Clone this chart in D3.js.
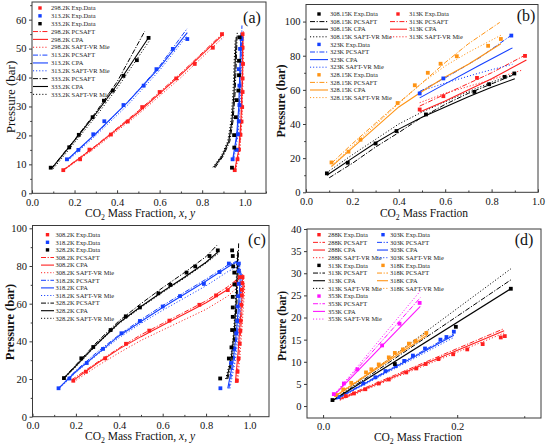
<!DOCTYPE html>
<html>
<head>
<meta charset="utf-8">
<script src="https://cdn.jsdelivr.net/npm/d3@7"></script>
<style>
body { margin: 0; background: #fff; }
svg text { font-family: 'Liberation Serif', 'Times New Roman', serif; }
</style>
</head>
<body>
<svg id="chart" width="550" height="447"></svg>
<script>
// colours
const RED = '#ff1f1f', BLUE = '#1440ff', BLACK = '#000', ORANGE = '#ff9414', MAGENTA = '#ff14ff';
const SERIF = "'Liberation Serif', 'Times New Roman', serif";

// ---------- panel (a) : x, P ----------
const aTemps = ['298.2', '313.2', '333.2'];
const aXTicks = [0, 0.2, 0.4, 0.6, 0.8, 1.0];
const aXMinor = [0.1, 0.3, 0.5, 0.7, 0.9, 1.1];
const aYTicks = [0, 10, 20, 30, 40, 50, 60];
const aYMinor = [5, 15, 25, 35, 45, 55, 65];

const aExp298 = [[0.147,8.0],[0.226,11.75],[0.27,15.1],[0.371,20.3],[0.45,24.8],[0.518,29.8],[0.6,35.0],[0.678,39.7],[0.765,44.7],[0.85,50.3],[0.893,55.0],
  [0.953,8.0],[0.966,11.75],[0.973,15.1],[0.98,20.2],[0.985,24.8],[0.988,29.8],[0.99,35.0],[0.99,39.7],[0.992,44.7],[0.99,50.3],[0.99,55.0]];
const aExp313 = [[0.164,11.75],[0.218,15.0],[0.288,20.4],[0.34,24.9],[0.43,30.5],[0.525,37.2],[0.585,42.9],[0.662,49.9],[0.73,53.3],
  [0.943,11.75],[0.962,15.0],[0.968,20.4],[0.972,24.9],[0.975,30.5],[0.975,37.2],[0.972,42.9],[0.978,49.9],[0.985,53.3]];
const aExp333 = [[0.088,8.85],[0.175,15.9],[0.22,20.2],[0.285,26.3],[0.338,32.0],[0.38,35.5],[0.43,40.6],[0.493,46.0],[0.548,53.7],
  [0.94,8.85],[0.951,15.8],[0.95,20.1],[0.958,26.3],[0.962,32.2],[0.97,35.5],[0.973,40.8],[0.973,45.8],[0.976,53.9]];

const aPc298 = [[[0.145,8],[0.3,16.5],[0.5,28.5],[0.7,41.5],[0.9,55.5]], [[0.955,8],[0.975,15],[0.985,25],[0.99,40],[0.993,56]]];
const aCpa298 = [[[0.148,8],[0.3,16.3],[0.5,28],[0.7,41],[0.9,55]], [[0.953,8],[0.972,15],[0.982,25],[0.988,40],[0.99,55]]];
const aSaft298 = [[[0.15,8],[0.3,15.8],[0.5,27.3],[0.7,40],[0.9,54]], [[0.957,8],[0.977,15],[0.987,25],[0.992,40],[0.995,54]]];
const aPc313 = [[[0.165,11.5],[0.3,20.5],[0.45,31.5],[0.6,44],[0.73,57]], [[0.945,11.5],[0.965,20],[0.975,30],[0.982,45],[0.987,58]]];
const aCpa313 = [[[0.165,11.5],[0.3,20.7],[0.45,31.5],[0.6,43.5],[0.73,55.5]], [[0.943,11.5],[0.962,20],[0.972,30],[0.978,45],[0.982,55.5]]];
const aSaft313 = [[[0.17,11.3],[0.3,20],[0.45,30.5],[0.6,42.5],[0.73,54.5]], [[0.948,11.3],[0.968,20],[0.978,30],[0.984,45],[0.988,54.5]]];
const aPc333 = [[[0.09,8.5],[0.2,18.5],[0.3,28],[0.4,38.5],[0.53,56]], [[0.86,8.8],[0.9,13],[0.93,18],[0.945,25],[0.955,35],[0.96,45],[0.965,56]]];
const aCpa333 = [[[0.095,8.8],[0.2,18.3],[0.3,27.5],[0.4,37.5],[0.55,54]], [[0.855,9],[0.895,13],[0.925,18],[0.94,25],[0.95,35],[0.955,45],[0.96,54]]];
const aSaft333 = [[[0.1,8.5],[0.2,17.5],[0.3,26.5],[0.4,36.3],[0.55,52.5]], [[0.85,9],[0.89,13],[0.92,18],[0.935,25],[0.945,35],[0.95,45],[0.955,53]]];

// ---------- panel (b) ----------
const bTemps = ['308.15', '313', '323', '328.15'];
const bXTicks = [0, 0.2, 0.4, 0.6, 0.8, 1.0];
const bXMinor = [0.1, 0.3, 0.5, 0.7, 0.9];
const bYTicks = [0, 20, 40, 60, 80, 100];
const bYMinor = [10, 30, 50, 70, 90];

const bExp308 = [[0.09,11.1],[0.18,17.3],[0.3,28.6],[0.39,35.9],[0.517,45.6],[0.726,58.8],[0.789,63.3],[0.856,67.6],[0.898,69.6]];
const bExp313 = [[0.49,48.5],[0.592,56.3],[0.737,67.0],[0.944,79.9]];
const bExp323 = [[0.49,57.9],[0.592,66.7],[0.885,91.8]];
const bExp328 = [[0.11,17.5],[0.183,23.8],[0.235,30.8],[0.395,52.3],[0.469,62.7],[0.525,70.0],[0.58,75.3],[0.65,79.7],[0.785,85.8],[0.84,89.8]];

const bPc308 = [[0.1,8.5],[0.2,17],[0.3,26.5],[0.4,35],[0.5,44],[0.6,51.5],[0.7,58],[0.8,63.5],[0.89,68.5]];
const bCpa308 = [[0.09,10],[0.2,20],[0.3,29],[0.4,37],[0.5,44],[0.6,50],[0.7,56],[0.8,61.5],[0.9,66.5]];
const bSaft308 = [[0.1,12.5],[0.2,22],[0.3,31],[0.4,40],[0.5,47],[0.6,53],[0.7,59],[0.8,64.5],[0.9,69.5]];
const bPc313 = [[0.49,50.5],[0.6,57.5],[0.8,70],[0.94,80]];
const bCpa313 = [[0.49,47],[0.6,53.5],[0.8,66.5],[0.95,77.5]];
const bSaft313 = [[0.49,52.5],[0.6,58],[0.8,66],[0.93,71.5]];
const bPc323 = [[0.49,59],[0.6,67],[0.75,79],[0.88,91.5]];
const bCpa323 = [[0.49,55.3],[0.6,63.5],[0.75,74.5],[0.89,84.6]];
const bSaft323 = [[0.49,59],[0.6,64],[0.75,70],[0.89,75]];
const bPc328 = [[0.11,17],[0.2,28.5],[0.3,40.5],[0.4,52.5],[0.5,64],[0.6,76],[0.7,87],[0.835,99.5]];
const bCpa328 = [[0.11,15],[0.2,26],[0.3,38],[0.4,50],[0.5,59],[0.6,67.5],[0.7,75],[0.84,87]];
const bSaft328 = [[0.11,15.5],[0.2,27],[0.3,39.5],[0.4,52],[0.5,64],[0.6,74],[0.7,82],[0.84,92]];

// ---------- panel (c) ----------
const cTemps = ['308.2', '318.2', '328.2'];
const cXTicks = [0, 0.2, 0.4, 0.6, 0.8, 1.0];
const cXMinor = [0.1, 0.3, 0.5, 0.7, 0.9];
const cYTicks = [0, 20, 40, 60, 80, 100];
const cYMinor = [10, 30, 50, 70, 90];

const cExp308 = [[0.188,19.1],[0.246,23.9],[0.335,31.0],[0.431,38.7],[0.538,45.7],[0.631,51.0],[0.769,59.4],[0.846,64.4],[0.9,67.2],[0.939,70.7],[0.955,74.1],
  [0.942,19.1],[0.945,23.9],[0.95,31.0],[0.955,38.7],[0.958,45.7],[0.96,51.0],[0.962,59.4],[0.963,64.4],[0.965,67.4],[0.966,70.9],[0.968,74.1]];
const cExp318 = [[0.12,15.1],[0.17,20.3],[0.25,28.5],[0.325,36.0],[0.41,44.3],[0.495,50.8],[0.6,58.5],[0.68,64.0],[0.79,70.5],[0.862,76.8],[0.905,81.3],
  [0.866,15.1],[0.915,28.5],[0.93,36.0],[0.939,44.3],[0.943,50.8],[0.946,58.5],[0.948,64.0],[0.95,70.5],[0.951,77.3],[0.951,81.3]];
const cExp328 = [[0.145,20.5],[0.225,31.0],[0.28,37.0],[0.36,46.0],[0.43,53.3],[0.495,58.0],[0.58,65.5],[0.635,70.0],[0.71,76.5],[0.75,79.8],[0.816,85.3],[0.854,88.3],
  [0.865,20.3],[0.905,30.9],[0.917,36.8],[0.92,46.0],[0.923,53.0],[0.923,58.0],[0.923,63.6],[0.931,70.2],[0.93,76.5],[0.925,79.8],[0.923,85.3],[0.92,88.3]];

const cPc308 = [[[0.18,19.5],[0.3,29],[0.4,36.5],[0.5,43.5],[0.6,49.5],[0.7,55.5],[0.8,61.5],[0.9,69],[0.97,75.5]], [[0.94,18],[0.953,35],[0.965,55],[0.975,70],[0.97,75.5]]];
const cCpa308 = [[[0.185,19],[0.3,28.5],[0.4,36],[0.5,42.5],[0.6,48.5],[0.7,54.5],[0.8,60.5],[0.9,67.5],[0.965,74.5]], [[0.935,18],[0.948,35],[0.96,55],[0.97,70],[0.965,74.5]]];
const cSaft308 = [[[0.19,18.5],[0.3,27],[0.4,34],[0.5,40.5],[0.6,46],[0.7,51.5],[0.8,57],[0.9,64],[0.975,72]], [[0.945,18],[0.958,35],[0.97,55],[0.978,68],[0.975,72]]];
const cPc318 = [[[0.12,15],[0.2,24.5],[0.3,34.5],[0.4,43.5],[0.5,51.5],[0.6,59],[0.7,66],[0.8,73],[0.9,80.5],[0.95,83]], [[0.905,15],[0.93,30],[0.945,45],[0.955,60],[0.962,75],[0.95,83]]];
const cCpa318 = [[[0.12,15],[0.2,24],[0.3,33.5],[0.4,43],[0.5,50.5],[0.6,58],[0.7,65],[0.8,72],[0.9,79.5],[0.94,82]], [[0.9,15],[0.925,30],[0.94,45],[0.95,60],[0.958,75],[0.94,82]]];
const cSaft318 = [[[0.125,15],[0.2,23.5],[0.3,33],[0.4,42],[0.5,49.5],[0.6,56.5],[0.7,63],[0.8,69.5],[0.9,77],[0.95,80]], [[0.91,15],[0.935,30],[0.95,45],[0.96,60],[0.966,75],[0.95,80]]];
const cPc328 = [[[0.14,20],[0.2,27.5],[0.3,40],[0.4,51],[0.5,60],[0.6,68.5],[0.7,76.5],[0.8,85],[0.85,91]], [[0.9,20],[0.92,30],[0.935,45],[0.942,60],[0.947,75],[0.95,92]]];
const cCpa328 = [[[0.14,20],[0.2,27],[0.3,39],[0.4,50],[0.5,58.5],[0.6,66.5],[0.7,74],[0.8,82],[0.86,88]], [[0.895,20],[0.915,30],[0.93,45],[0.938,60],[0.943,75],[0.946,88]]];
const cSaft328 = [[[0.145,20],[0.2,26.5],[0.3,38.5],[0.4,49.5],[0.5,58],[0.6,66],[0.7,73.5],[0.8,81.5],[0.86,87]], [[0.89,20],[0.912,30],[0.927,45],[0.935,60],[0.94,75],[0.944,87]]];

// ---------- panel (d) ----------
const dTemps = ['288', '303', '313', '318', '353'];
const dXTicks = [0, 0.2];
const dXMinor = [0.1, 0.3];
const dYTicks = [0, 5, 10, 15, 20, 25, 30, 35, 40];

const dExp288 = [[0.034,2.25],[0.046,2.85],[0.063,3.8],[0.083,5.1],[0.098,6.0],[0.124,7.6],[0.139,8.5],[0.153,9.5],[0.172,10.6],[0.194,11.7],[0.215,12.8],[0.238,14.0],[0.265,15.5],[0.271,15.8]];
const dExp303 = [[0.023,2.0],[0.06,5.1],[0.078,6.5],[0.093,7.9],[0.108,9.0],[0.121,10.2],[0.134,11.4],[0.152,13.0],[0.175,15.0],[0.184,15.6],[0.195,16.8]];
const dExp313 = [[0.014,1.35],[0.107,9.5],[0.198,17.9],[0.28,26.5]];
const dExp318 = [[0.019,2.5],[0.03,3.75],[0.042,5.25],[0.064,7.6],[0.072,8.3],[0.083,9.4],[0.098,11.0],[0.107,12.0],[0.119,12.8],[0.128,14.1],[0.138,14.7],[0.154,16.5]];
const dExp353 = [[0.016,2.7],[0.031,5.1],[0.051,8.3],[0.088,13.7],[0.114,18.6],[0.144,23.3]];

const dPc288 = [[0.025,1.7],[0.27,17.5]];
const dCpa288 = [[0.025,1.5],[0.27,17]];
const dSaft288 = [[0.025,1.3],[0.27,16.5]];
const dPc303 = [[0.02,1.7],[0.195,16.3]];
const dCpa303 = [[0.02,1.6],[0.195,16]];
const dSaft303 = [[0.02,1.5],[0.195,15.5]];
const dPc313 = [[0.015,1.3],[0.28,28.5]];
const dCpa313 = [[0.015,1.3],[0.28,26.5]];
const dSaft313 = [[0.015,1.3],[0.28,31]];
const dPc318 = [[0.018,2.3],[0.155,16.5]];
const dCpa318 = [[0.018,2.2],[0.155,16]];
const dSaft318 = [[0.018,2.0],[0.155,16.8]];
const dPc353 = [[0.017,2.6],[0.145,24.5]];
const dCpa353 = [[0.017,2.5],[0.145,22.5]];
const dSaft353 = [[0.017,2.7],[0.145,26]];

// ---------- drawing ----------
const svg = d3.select('#chart').attr('font-family', SERIF);
svg.append('rect').attr('width', 550).attr('height', 447).attr('fill', '#fff');

const FRAME = '#3a3a3a';
const DASH = { pc: '5,1.6,1.2,1.6', cpa: null, saft: '1.1,2' };
const KIND_TXT = { exp: 'Exp.Data', pc: 'PCSAFT', cpa: 'CPA', saft: 'SAFT-VR Mie' };

function toLines(v) { return Array.isArray(v[0][0]) ? v : [v]; }

function addCO2(g, cx, y, size, withXY) {
  const t = g.append('text').attr('x', cx).attr('y', y).attr('text-anchor', 'middle')
    .attr('font-family', SERIF).attr('font-size', size).attr('fill', '#111');
  t.append('tspan').text('CO');
  t.append('tspan').attr('font-size', size * 0.68).attr('dy', 3).text('2');
  t.append('tspan').attr('dy', -3).text(' Mass Fraction');
  if (withXY) {
    t.append('tspan').text(', ');
    t.append('tspan').attr('font-style', 'italic').text('x');
    t.append('tspan').text(', ');
    t.append('tspan').attr('font-style', 'italic').text('y');
  }
}

function drawPanel(p) {
  const g = svg.append('g');
  const x = d3.scaleLinear().domain(p.xDom).range([p.l, p.r]);
  const y = d3.scaleLinear().domain(p.yDom).range([p.b, p.t]);
  const line = d3.line().x(d => x(d[0])).y(d => y(d[1]));

  // axes
  const yAx = g.append('g').attr('transform', `translate(${p.l},0)`)
    .call(d3.axisLeft(y).tickValues(p.yTicks).tickSize(3).tickSizeOuter(0).tickPadding(2.5).tickFormat(d3.format('d')));
  if (p.yMinor) {
    g.append('g').attr('transform', `translate(${p.l},0)`)
      .call(d3.axisLeft(y).tickValues(p.yMinor).tickSize(1.8).tickSizeOuter(0).tickFormat(''))
      .select('.domain').remove();
  }
  const xAx = g.append('g').attr('transform', `translate(0,${p.b})`)
    .call(d3.axisBottom(x).tickValues(p.xTicks).tickSizeInner(-3).tickSizeOuter(0).tickPadding(5).tickFormat(d3.format('.1f')));
  g.append('g').attr('transform', `translate(0,${p.b})`)
    .call(d3.axisBottom(x).tickValues(p.xMinor).tickSizeInner(-1.8).tickSizeOuter(0).tickFormat(''))
    .select('.domain').remove();
  [yAx, xAx].forEach(a => {
    a.select('.domain').remove();
    a.attr('font-family', SERIF).attr('font-size', 10.5).attr('color', FRAME);
    a.selectAll('text').attr('fill', '#111');
  });
  g.selectAll('.tick line').attr('stroke', FRAME);

  // frame
  g.append('rect').attr('x', p.l).attr('y', p.t).attr('width', p.r - p.l).attr('height', p.b - p.t)
    .attr('fill', 'none').attr('stroke', FRAME).attr('stroke-width', 1);

  // model lines
  p.series.forEach(s => {
    ['pc', 'cpa', 'saft'].forEach(k => {
      toLines(s[k]).forEach(pts => {
        g.append('path').attr('d', line(pts)).attr('fill', 'none')
          .attr('stroke', s.color).attr('stroke-width', k === 'cpa' ? 1.1 : 1)
          .attr('stroke-dasharray', DASH[k]);
      });
    });
  });
  // experimental points
  p.series.forEach(s => {
    g.selectAll(null).data(s.exp).enter().append('rect')
      .attr('x', d => x(d[0]) - 1.9).attr('y', d => y(d[1]) - 1.9)
      .attr('width', 3.8).attr('height', 3.8).attr('fill', s.color);
  });

  // legend
  const L = p.legend;
  L.items.forEach(it => {
    const c = L.cols[it.col];
    const cy = L.y0 + it.row * L.dy;
    if (it.kind === 'exp') {
      g.append('rect').attr('x', c.m - 1.7).attr('y', cy - 1.7).attr('width', 3.4).attr('height', 3.4).attr('fill', it.color);
    } else {
      g.append('line').attr('x1', c.l1).attr('x2', c.l2).attr('y1', cy).attr('y2', cy)
        .attr('stroke', it.color).attr('stroke-width', it.kind === 'cpa' ? 1.1 : 1)
        .attr('stroke-dasharray', DASH[it.kind]);
    }
    g.append('text').attr('x', c.t).attr('y', cy + 2.2).attr('font-family', SERIF)
      .attr('font-size', 6.4).attr('fill', '#222')
      .text(`${it.temp}K ${KIND_TXT[it.kind]}`);
  });

  // titles
  g.append('text').attr('transform', `translate(${p.yTitle[0]},${p.yTitle[1]}) rotate(-90)`)
    .attr('text-anchor', 'middle').attr('dominant-baseline', 'central').attr('font-family', SERIF)
    .attr('font-size', p.yTitle[2]).attr('font-weight', p.yTitle[3] ? 'bold' : null).attr('fill', '#111')
    .text('Pressure (bar)');
  addCO2(g, p.xTitle[0], p.xTitle[1], 11.5, p.xTitle[2]);
  g.append('text').attr('x', p.tag[0]).attr('y', p.tag[1]).attr('text-anchor', 'middle')
    .attr('font-family', SERIF).attr('font-size', 16).attr('fill', '#111').text(p.tag[2]);
}

// legend builders
function legendSingle(temps, colors) {
  const items = [];
  temps.forEach((t, i) => items.push({ col: 0, row: i, kind: 'exp', temp: t, color: colors[i] }));
  temps.forEach((t, i) => ['pc', 'cpa', 'saft'].forEach((k, j) =>
    items.push({ col: 0, row: temps.length + i * 3 + j, kind: k, temp: t, color: colors[i] })));
  return items;
}
function legendGroups(groups) {
  const items = [];
  groups.forEach(gr => ['exp', 'pc', 'cpa', 'saft'].forEach((k, j) =>
    items.push({ col: gr.col, row: gr.start + j, kind: k, temp: gr.temp, color: gr.color })));
  return items;
}

drawPanel({
  l: 32, r: 266, t: 2, b: 193.3, xDom: [0, 1.1], yDom: [0, 66.1],
  xTicks: aXTicks, xMinor: aXMinor, yTicks: aYTicks, yMinor: aYMinor,
  series: [
    { color: RED, exp: aExp298, pc: aPc298, cpa: aCpa298, saft: aSaft298 },
    { color: BLUE, exp: aExp313, pc: aPc313, cpa: aCpa313, saft: aSaft313 },
    { color: BLACK, exp: aExp333, pc: aPc333, cpa: aCpa333, saft: aSaft333 }
  ],
  legend: { y0: 8, dy: 7.85, cols: [{ l1: 33, l2: 48, m: 40, t: 51 }], items: legendSingle(aTemps, [RED, BLUE, BLACK]) },
  yTitle: [10, 97, 13, false], xTitle: [140, 217, true], tag: [252, 23, '(a)']
});

drawPanel({
  l: 306, r: 538, t: 4.5, b: 192.3, xDom: [0, 1.0], yDom: [0, 110],
  xTicks: bXTicks, xMinor: bXMinor, yTicks: bYTicks, yMinor: bYMinor,
  series: [
    { color: BLACK, exp: bExp308, pc: bPc308, cpa: bCpa308, saft: bSaft308 },
    { color: RED, exp: bExp313, pc: bPc313, cpa: bCpa313, saft: bSaft313 },
    { color: BLUE, exp: bExp323, pc: bPc323, cpa: bCpa323, saft: bSaft323 },
    { color: ORANGE, exp: bExp328, pc: bPc328, cpa: bCpa328, saft: bSaft328 }
  ],
  legend: { y0: 14, dy: 7.6,
    cols: [{ l1: 310, l2: 328, m: 319, t: 330 }, { l1: 390, l2: 407, m: 398, t: 409 }],
    items: legendGroups([
      { col: 0, start: 0, temp: bTemps[0], color: BLACK },
      { col: 1, start: 0, temp: bTemps[1], color: RED },
      { col: 0, start: 4, temp: bTemps[2], color: BLUE },
      { col: 0, start: 8, temp: bTemps[3], color: ORANGE }
    ]) },
  yTitle: [281, 101, 12, true], xTitle: [424, 216.5, false], tag: [526, 21, '(b)']
});

drawPanel({
  l: 32.5, r: 269, t: 225.5, b: 416.7, xDom: [0, 1.09], yDom: [0, 101.5],
  xTicks: cXTicks, xMinor: cXMinor, yTicks: cYTicks, yMinor: cYMinor,
  series: [
    { color: RED, exp: cExp308, pc: cPc308, cpa: cCpa308, saft: cSaft308 },
    { color: BLUE, exp: cExp318, pc: cPc318, cpa: cCpa318, saft: cSaft318 },
    { color: BLACK, exp: cExp328, pc: cPc328, cpa: cCpa328, saft: cSaft328 }
  ],
  legend: { y0: 234.7, dy: 7.6, cols: [{ l1: 41, l2: 54, m: 47.5, t: 55.5 }], items: legendSingle(cTemps, [RED, BLUE, BLACK]) },
  yTitle: [10, 322, 12.5, true], xTitle: [140, 440, true], tag: [257, 245, '(c)']
});

drawPanel({
  l: 307, r: 541, t: 229, b: 418, xDom: [-0.024, 0.325], yDom: [-2.7, 40],
  xTicks: dXTicks, xMinor: dXMinor, yTicks: dYTicks, yMinor: null,
  series: [
    { color: RED, exp: dExp288, pc: dPc288, cpa: dCpa288, saft: dSaft288 },
    { color: BLUE, exp: dExp303, pc: dPc303, cpa: dCpa303, saft: dSaft303 },
    { color: BLACK, exp: dExp313, pc: dPc313, cpa: dCpa313, saft: dSaft313 },
    { color: ORANGE, exp: dExp318, pc: dPc318, cpa: dCpa318, saft: dSaft318 },
    { color: MAGENTA, exp: dExp353, pc: dPc353, cpa: dCpa353, saft: dSaft353 }
  ],
  legend: { y0: 234.7, dy: 7.67,
    cols: [{ l1: 313, l2: 325, m: 319, t: 328 }, { l1: 377, l2: 388, m: 383, t: 390 }],
    items: legendGroups([
      { col: 0, start: 0, temp: dTemps[0], color: RED },
      { col: 1, start: 0, temp: dTemps[1], color: BLUE },
      { col: 0, start: 4, temp: dTemps[2], color: BLACK },
      { col: 1, start: 4, temp: dTemps[3], color: ORANGE },
      { col: 0, start: 8, temp: dTemps[4], color: MAGENTA }
    ]) },
  yTitle: [282, 326, 11.5, true], xTitle: [418, 441, false], tag: [524, 245, '(d)']
});
</script>
</body>
</html>
